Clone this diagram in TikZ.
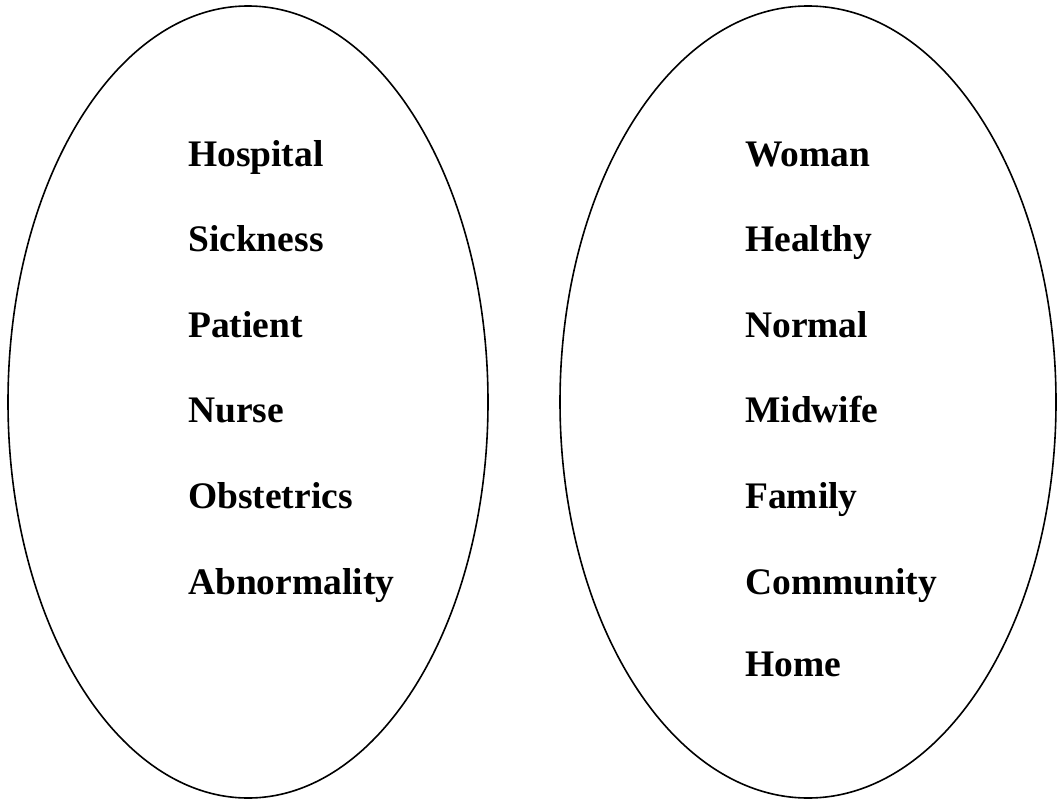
\documentclass[tikz,border=0pt]{standalone}
\usepackage{fontspec}
\setmainfont{Liberation Serif}
\usetikzlibrary{shapes.geometric}
\begin{document}
\begin{tikzpicture}[x=1pt,y=-1pt,
  oval/.style={draw=black, line width=1.6pt, ellipse, inner sep=0pt, minimum width=#1, minimum height=792pt},
  word/.style={anchor=base west, inner sep=0pt, font=\fontsize{37.5}{45}\selectfont\bfseries}]
\useasboundingbox (0,0) rectangle (1057,800);
\clip (0,0) rectangle (1057,800);
\node[oval=480pt] (L) at (248,402) {};
\node[oval=496pt] (R) at (808,402) {};
\node[word] (l1) at (188,166) {Hospital};
\node[word] (l2) at (188,251.5) {Sickness};
\node[word] (l3) at (188,337) {Patient};
\node[word] (l4) at (188,422.5) {Nurse};
\node[word] (l5) at (188,508) {Obstetrics};
\node[word] (l6) at (188,594) {Abnormality};
\node[word] (r1) at (745,166) {Woman};
\node[word] (r2) at (745,251.5) {Healthy};
\node[word] (r3) at (745,337) {Normal};
\node[word] (r4) at (745,422.5) {Midwife};
\node[word] (r5) at (745,508) {Family};
\node[word] (r6) at (745,594) {Community};
\node[word] (r7) at (745,676) {Home};
\end{tikzpicture}
\end{document}
